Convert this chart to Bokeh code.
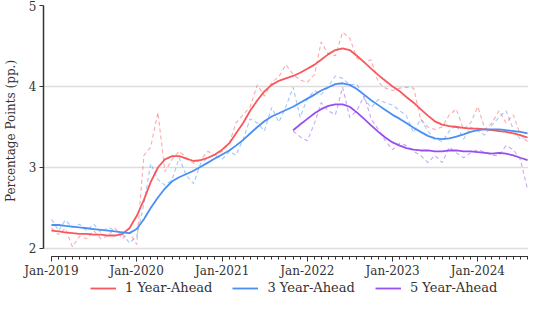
import pandas as pd
from bokeh.plotting import figure
from bokeh.layouts import column
from bokeh.models import (Range1d, FixedTicker, DatetimeTickFormatter, Legend,
                          LegendItem)
from bokeh.embed import file_html
from bokeh.resources import INLINE

# ---------------- data ----------------
months = pd.date_range("2019-01-01", "2024-08-01", freq="MS")  # Jan-2019 .. Aug-2024

one_year_raw = [2.25, 2.17, 2.25, 2.02, 2.15, 2.12, 2.22, 2.12, 2.16, 2.25, 2.12, 2.20,
                2.05, 3.15, 3.25, 3.68, 2.95, 3.10, 3.20, 3.12, 3.05, 3.10, 3.20, 3.15,
                3.20, 3.30, 3.55, 3.65, 3.75, 4.02, 3.88, 4.05, 4.12, 4.27, 4.15, 4.08,
                4.05, 4.15, 4.55, 4.40, 4.38, 4.67, 4.60, 4.35, 4.30, 4.33, 4.05, 3.98,
                3.95, 3.98, 3.99, 3.98, 3.60, 3.50, 3.47, 3.50, 3.65, 3.72, 3.47, 3.55,
                3.75, 3.47, 3.55, 3.70, 3.55, 3.65, 3.40, 3.32]
one_year_trend = [2.22, 2.21, 2.20, 2.19, 2.18, 2.18, 2.17, 2.17, 2.16, 2.16, 2.18, 2.25,
                  2.40, 2.60, 2.82, 3.00, 3.10, 3.14, 3.14, 3.11, 3.08, 3.09, 3.12, 3.16,
                  3.22, 3.30, 3.42, 3.55, 3.70, 3.83, 3.94, 4.02, 4.07, 4.10, 4.13, 4.17,
                  4.22, 4.27, 4.33, 4.40, 4.45, 4.47, 4.45, 4.38, 4.30, 4.22, 4.14, 4.07,
                  4.00, 3.94, 3.87, 3.80, 3.72, 3.64, 3.57, 3.53, 3.51, 3.50, 3.49, 3.48,
                  3.48, 3.47, 3.46, 3.45, 3.44, 3.42, 3.40, 3.37]

three_year_raw = [2.36, 2.22, 2.35, 2.26, 2.30, 2.22, 2.30, 2.20, 2.26, 2.22, 2.18, 2.07,
                  2.15, 2.55, 3.05, 2.85, 2.78, 2.85, 3.12, 2.90, 2.80, 3.05, 3.12, 3.15,
                  3.10, 3.20, 3.15, 3.35, 3.60, 3.55, 3.45, 3.74, 3.56, 3.75, 3.99, 3.62,
                  3.85, 3.95, 3.90, 4.00, 4.13, 4.10, 4.02, 4.03, 3.85, 3.74, 3.84, 3.80,
                  3.77, 3.70, 3.64, 3.43, 3.60, 3.45, 3.35, 3.32, 3.45, 3.53, 3.35, 3.50,
                  3.45, 3.40, 3.52, 3.62, 3.70, 3.47, 3.35, 3.38]
three_year_trend = [2.29, 2.29, 2.28, 2.27, 2.26, 2.25, 2.24, 2.23, 2.22, 2.21, 2.20, 2.19,
                    2.24, 2.36, 2.50, 2.63, 2.74, 2.83, 2.88, 2.92, 2.96, 3.01, 3.06, 3.11,
                    3.16, 3.21, 3.27, 3.34, 3.42, 3.50, 3.57, 3.63, 3.67, 3.71, 3.75, 3.80,
                    3.85, 3.90, 3.95, 3.99, 4.03, 4.04, 4.02, 3.97, 3.90, 3.83, 3.77, 3.71,
                    3.65, 3.60, 3.55, 3.49, 3.44, 3.39, 3.36, 3.35, 3.36, 3.38, 3.41, 3.44,
                    3.46, 3.47, 3.47, 3.47, 3.46, 3.45, 3.44, 3.42]

five_year_months = pd.date_range("2021-11-01", "2024-08-01", freq="MS")
five_year_raw = [3.45, 3.38, 3.33, 3.55, 3.80, 3.70, 3.65, 3.99, 3.62, 3.70, 3.89, 3.60,
                 3.47, 3.33, 3.22, 3.30, 3.27, 3.20, 3.15, 3.06, 3.15, 3.06, 3.25, 3.18,
                 3.12, 3.18, 3.22, 3.19, 3.15, 3.15, 3.27, 3.22, 3.10, 2.73]
five_year_trend = [3.46, 3.53, 3.60, 3.67, 3.72, 3.76, 3.78, 3.78, 3.75, 3.68, 3.60, 3.52,
                   3.44, 3.37, 3.31, 3.27, 3.24, 3.22, 3.21, 3.21, 3.20, 3.20, 3.21, 3.21,
                   3.20, 3.20, 3.19, 3.18, 3.17, 3.18, 3.17, 3.15, 3.12, 3.09]

series_labels = ["1 Year-Ahead", "3 Year-Ahead", "5 Year-Ahead"]
series_colors = ["#f8585c", "#4a8ff5", "#9650f0"]
y_ticks = [2, 3, 4, 5]
tick_years = [2019, 2020, 2021, 2022, 2023, 2024]

# ---------------- figure ----------------
FONT = "DejaVu Serif"


def ms(ts):
    return pd.Timestamp(ts).value / 1e6


x_start, x_end = ms("2018-11-28"), ms("2024-08-05")

p = figure(width=528, height=280, x_axis_type="datetime",
           output_backend="svg", toolbar_location=None,
           x_range=Range1d(x_start, x_end),
           y_range=Range1d(1.901, 5.0),
           min_border_left=35, min_border_right=0, min_border_top=5,
           min_border_bottom=24)
p.outline_line_color = None
p.background_fill_color = "white"

# lines
xs_list = [months, months, five_year_months]
raw_list = [one_year_raw, three_year_raw, five_year_raw]
trend_list = [one_year_trend, three_year_trend, five_year_trend]
for xs, raw, col in zip(xs_list, raw_list, series_colors):
    p.line(xs, raw, line_color=col, line_width=1.1, line_alpha=0.5, line_dash="4 3")
for xs, trend, col in zip(xs_list, trend_list, series_colors):
    p.line(xs, trend, line_color=col, line_width=1.8)

# axes
xa = p.xaxis[0]
xa.ticker = FixedTicker(ticks=[ms(f"{y}-01-01") for y in tick_years],
                        minor_ticks=[ms(m) for m in months])
xa.formatter = DatetimeTickFormatter(years="%b-%Y", months="%b-%Y", days="%b-%Y")
xa.bounds = (ms("2019-01-01"), x_end)
xa.axis_line_color = "#333333"
xa.axis_line_width = 1.2
xa.major_tick_in = 0
xa.major_tick_out = 5
xa.minor_tick_in = 0
xa.minor_tick_out = 3
xa.major_tick_line_color = "#333333"
xa.minor_tick_line_color = "#333333"
xa.major_label_text_font = FONT
xa.major_label_text_font_size = "12px"
xa.major_label_text_color = "#333333"
xa.major_label_standoff = 2
xa.axis_label_standoff = 0

ya = p.yaxis[0]
ya.ticker = FixedTicker(ticks=y_ticks)
ya.bounds = (2, 5)
ya.axis_line_color = "#333333"
ya.axis_line_width = 1.5
ya.major_tick_in = 0
ya.major_tick_out = 4
ya.minor_tick_line_color = None
ya.major_tick_line_color = "#333333"
ya.major_label_text_font = FONT
ya.major_label_text_font_size = "12px"
ya.major_label_text_color = "#333333"
ya.major_label_standoff = 3
ya.axis_label = "Percentage Points (pp.)"
ya.axis_label_text_font = FONT
ya.axis_label_text_font_size = "12px"
ya.axis_label_text_font_style = "normal"
ya.axis_label_text_color = "#333333"
ya.axis_label_standoff = 8

p.xgrid.grid_line_color = None
p.ygrid.ticker = FixedTicker(ticks=y_ticks)
p.ygrid.grid_line_color = "#dddddd"
p.ygrid.grid_line_width = 1.5

# ---------------- legend strip (same series, plotted out of its view) ----------------
leg = figure(width=528, height=15, output_backend="svg", toolbar_location=None,
             x_range=Range1d(x_start, x_end), y_range=Range1d(10, 11),
             x_axis_location=None, y_axis_location=None,
             min_border=0, min_border_left=0, min_border_right=0,
             min_border_top=0, min_border_bottom=0)
leg.grid.visible = False
leg.outline_line_color = None
leg_renderers = [leg.line(xs, trend, line_color=col, line_width=1.8)
                 for xs, trend, col in zip(xs_list, trend_list, series_colors)]
legend = Legend(items=[LegendItem(label=lab, renderers=[r])
                       for lab, r in zip(series_labels, leg_renderers)],
                orientation="horizontal", location=(47, 0),
                border_line_color=None, background_fill_alpha=0,
                label_text_font=FONT, label_text_font_size="13px",
                label_text_color="#333333", label_height=14,
                glyph_width=26, glyph_height=14, label_standoff=9, spacing=20,
                margin=0, padding=0)
leg.add_layout(legend, "center")

open("out.html", "w").write(file_html(column(p, leg, spacing=0), INLINE))
